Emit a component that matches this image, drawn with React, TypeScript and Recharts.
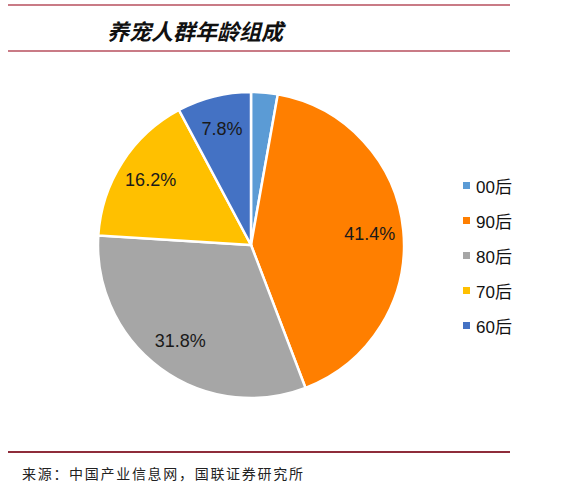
import React from 'react';
import { PieChart, Pie, Cell, Legend } from 'recharts';

const groups = ['00后', '90后', '80后', '70后', '60后'];
const shares = [2.8, 41.4, 31.8, 16.2, 7.8];
const labels = ['', '41.4%', '31.8%', '16.2%', '7.8%'];
const colors = ['#5B9BD5', '#FF7F00', '#A6A6A6', '#FFC000', '#4472C4'];

const data = groups.map((name, i) => ({ name, value: shares[i], label: labels[i] }));

const RADIAN = Math.PI / 180;

const renderLabel = (props: any) => {
  const { cx, cy, midAngle, outerRadius, index } = props;
  const text = labels[index];
  if (!text) return null;
  const r = outerRadius * 0.78;
  const x = cx + r * Math.cos(-midAngle * RADIAN);
  const y = cy + r * Math.sin(-midAngle * RADIAN);
  return (
    <text
      x={x}
      y={y}
      fill="#1a1a1a"
      fontSize={18}
      fontFamily="'Liberation Sans', Arial, sans-serif"
      textAnchor="middle"
      dominantBaseline="central"
    >
      {text}
    </text>
  );
};

const renderLegend = () => (
  <div style={{ display: 'flex', flexDirection: 'column' }}>
    {groups.map((g, i) => (
      <div key={g} style={{ display: 'flex', alignItems: 'center', height: 35 }}>
        <span style={{ width: 7, height: 7, background: colors[i], marginRight: 6 }} />
        <span style={{ fontSize: 17, color: '#111', fontFamily: "'Liberation Sans', 'Noto Sans CJK SC', sans-serif" }}>
          {g}
        </span>
      </div>
    ))}
  </div>
);

export default function App() {
  return (
    <div style={{ position: 'absolute', left: 0, top: 0, width: 570, height: 488, background: '#fff' }}>
      <div style={{ position: 'absolute', left: 8, top: 4, width: 502, height: 2, background: '#C97B86' }} />
      <div
        style={{
          position: 'absolute',
          left: 107,
          top: 15,
          fontSize: 22,
          fontWeight: 'bold',
          fontStyle: 'italic',
          fontFamily: "'Noto Sans CJK SC', sans-serif",
          color: '#111',
          lineHeight: '30px',
        }}
      >
        养宠人群年龄组成
      </div>
      <div style={{ position: 'absolute', left: 8, top: 50, width: 502, height: 2, background: '#C97B86' }} />
      <div style={{ position: 'absolute', left: 0, top: 0 }}>
        <PieChart width={570} height={440} margin={{ top: 0, right: 0, bottom: 0, left: 0 }}>
          <Pie
            data={data}
            dataKey="value"
            nameKey="name"
            cx={251}
            cy={245}
            outerRadius={153}
            startAngle={90}
            endAngle={-270}
            stroke="#fff"
            strokeWidth={2.5}
            label={renderLabel}
            labelLine={false}
            isAnimationActive={false}
          >
            {data.map((d, i) => (
              <Cell key={d.name} fill={colors[i]} />
            ))}
          </Pie>
          <Legend
            layout="vertical"
            content={renderLegend}
            wrapperStyle={{ left: 463, top: 168, width: 100 }}
          />
        </PieChart>
      </div>
      <div style={{ position: 'absolute', left: 8, top: 451, width: 502, height: 2, background: '#8E2C3A' }} />
      <div
        style={{
          position: 'absolute',
          left: 22,
          top: 463,
          fontSize: 14,
          letterSpacing: 1.7,
          fontFamily: "'Noto Sans CJK SC', sans-serif",
          color: '#222',
          lineHeight: '20px',
        }}
      >
        来源：中国产业信息网，国联证券研究所
      </div>
    </div>
  );
}
